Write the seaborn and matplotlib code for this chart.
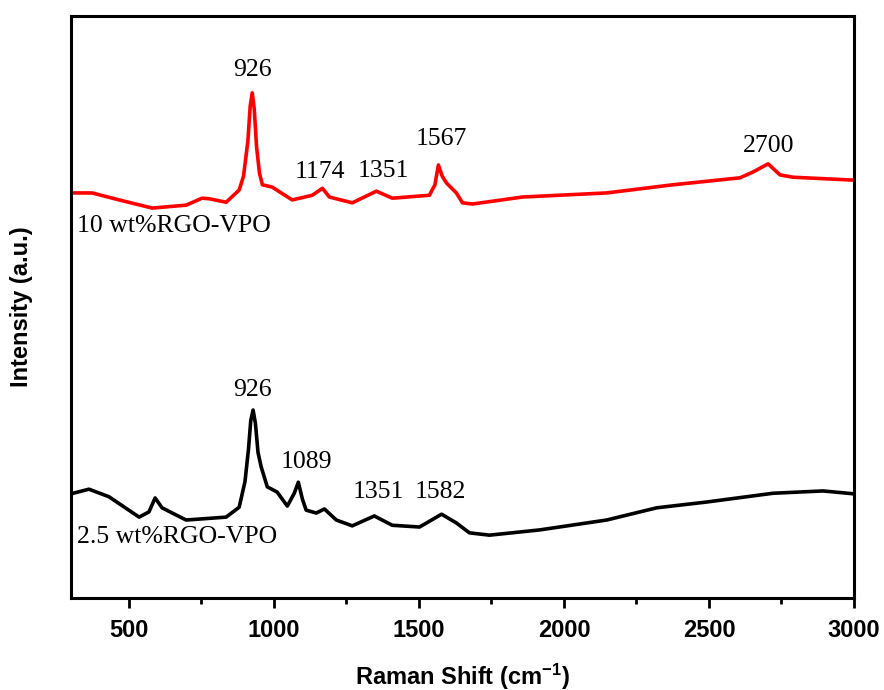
import numpy as np
import pandas as pd
import matplotlib
matplotlib.use("Agg")
import matplotlib.pyplot as plt
import seaborn as sns

# ── Data ──────────────────────────────────────────────────────────────────────
shift_10 = [300, 373, 466, 580, 697, 752, 777, 835, 880, 895, 910, 918, 925,
            932, 940, 950, 960, 994, 1025, 1063, 1132, 1167, 1191, 1270, 1353,
            1408, 1536, 1555, 1567, 1580, 1595, 1629, 1650, 1685, 1857, 2147,
            2375, 2607, 2652, 2704, 2745, 2790, 3000]
inten_10 = [69.6, 69.6, 68.4, 67.0, 67.5, 68.7, 68.6, 68.0, 70.1, 72.5, 78.5,
            84.5, 86.8, 84.0, 77.5, 73.0, 71.0, 70.6, 69.6, 68.4, 69.2, 70.4,
            68.9, 67.9, 69.9, 68.7, 69.2, 71.0, 74.4, 72.5, 71.3, 69.6, 67.9,
            67.7, 68.9, 69.6, 71.0, 72.2, 73.2, 74.6, 72.7, 72.3, 71.8]

shift_25 = [300, 362, 431, 535, 569, 590, 614, 697, 835, 880, 900, 912, 920,
            928, 936, 945, 956, 977, 1011, 1046, 1070, 1084, 1098, 1111, 1146,
            1174, 1215, 1270, 1346, 1408, 1502, 1578, 1629, 1674, 1743, 1916,
            2147, 2320, 2493, 2721, 2893, 3000]
inten_25 = [17.9, 18.7, 17.4, 13.9, 14.8, 17.2, 15.5, 13.4, 13.9, 15.6, 20.0,
            25.5, 30.5, 32.3, 30.0, 25.0, 22.5, 19.1, 18.2, 15.8, 18.0, 19.9,
            17.0, 15.1, 14.6, 15.3, 13.4, 12.4, 14.1, 12.5, 12.2, 14.4, 12.9,
            11.2, 10.8, 11.7, 13.4, 15.5, 16.5, 18.0, 18.4, 17.9]

peaks_10 = [926, 1174, 1351, 1567, 2700]
peaks_25 = [926, 1089, 1351, 1582]
label_10 = "10 wt%RGO-VPO"
label_25 = "2.5 wt%RGO-VPO"

# label offsets from each peak top, in points (layout only)
nudge_10 = [(0, 16.5), (-3, 12), (5.5, 14.5), (2, 19), (1, 13)]
nudge_25 = [(0, 14.5), (4.5, 14.5), (2, 17.5), (-1.5, 16)]

df = pd.concat([
    pd.DataFrame({"shift": shift_10, "intensity": inten_10, "sample": label_10}),
    pd.DataFrame({"shift": shift_25, "intensity": inten_25, "sample": label_25}),
])

# ── Plot ──────────────────────────────────────────────────────────────────────
sns.set_theme(style="ticks")
plt.rcParams["font.family"] = ["Liberation Sans", "DejaVu Sans"]
plt.rcParams.update({"text.color": "black", "axes.labelcolor": "black",
                     "xtick.color": "black", "ytick.color": "black",
                     "mathtext.default": "regular"})

fig = plt.figure(figsize=(8.84, 6.90), dpi=100)
ax = fig.add_axes([0.0803, 0.1333, 0.8857, 0.8435])

sns.lineplot(data=df, x="shift", y="intensity", hue="sample", sort=False,
             palette={label_10: "#ff0000", label_25: "#000000"},
             linewidth=2.6, legend=False, ax=ax)

serif = ["Liberation Serif", "DejaVu Serif"]

def label_peaks(xs, ys, peaks, nudges):
    xs, ys = np.asarray(xs), np.asarray(ys)
    for p, (dx, dy) in zip(peaks, nudges):
        win = (xs > p - 35) & (xs < p + 35)
        top = ys[win].max() if win.any() else np.interp(p, xs, ys)
        ax.annotate(str(p), xy=(p, top), xytext=(dx, dy), textcoords="offset points",
                    ha="center", va="center", fontsize=18.5, family=serif)

label_peaks(shift_10, inten_10, peaks_10, nudge_10)
label_peaks(shift_25, inten_25, peaks_25, nudge_25)

ax.text(321, 63.9, label_10, ha="left", va="center", fontsize=18.5, family=serif)
ax.text(321, 10.5, label_25, ha="left", va="center", fontsize=18.5, family=serif)

ax.set_xlim(300, 3000)
ax.set_ylim(0, 100)
ax.set_xticks([500, 1000, 1500, 2000, 2500, 3000])
ax.set_xticks(np.arange(750, 3000, 500), minor=True)
ax.set_yticks([])
ax.tick_params(axis="x", which="major", direction="out", length=7, width=2,
               labelsize=17, pad=8)
ax.tick_params(axis="x", which="minor", direction="out", length=4, width=2)
for lab in ax.get_xticklabels():
    lab.set_fontweight("bold")
for sp in ax.spines.values():
    sp.set_linewidth(2.2)
    sp.set_color("black")

ax.set_xlabel(r"Raman Shift (cm$^{-1}$)", fontsize=17, fontweight="bold",
              labelpad=14)
ax.set_ylabel("Intensity (a.u.)", fontsize=17, fontweight="bold", labelpad=27)

fig.savefig("out.png", dpi=100)
